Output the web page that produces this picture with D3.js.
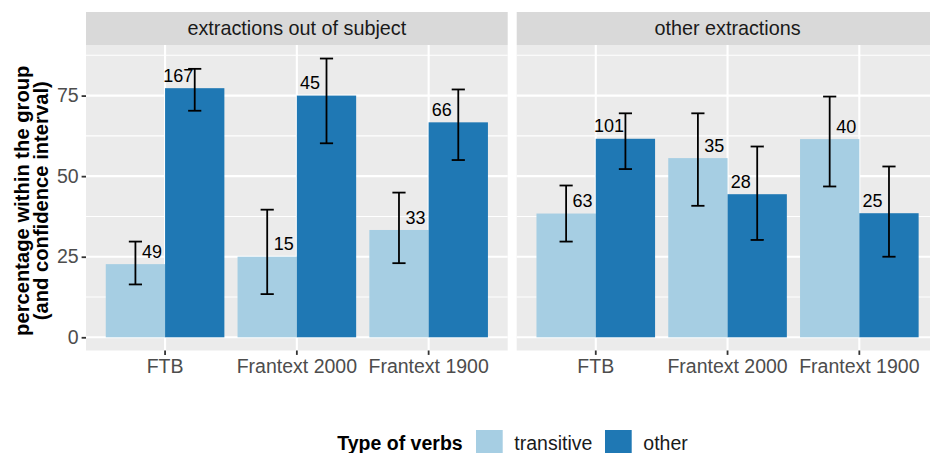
<!DOCTYPE html>
<html lang="en">
  <head>
    <meta charset="UTF-8" />
    <title>Type of verbs by extraction</title>
    <script src="https://d3js.org/d3.v7.min.js"></script>
    <style>
      body { margin: 0; background: #fff; }
      svg { display: block; font-family: "Liberation Sans", Arial, sans-serif; }
    </style>
  </head>
  <body>
    <svg id="chart" width="930" height="453"></svg>

    <script>
      // data
      const panels = ["extractions out of subject", "other extractions"];
      const corpora = ["FTB", "Frantext 2000", "Frantext 1900"];
      const verbTypes = ["transitive", "other"];

      // percentages, one row per panel, one value per corpus
      const transitivePct = [[22.7, 25.0, 33.3], [38.4, 55.6, 61.5]];
      const otherPct = [[77.3, 75.0, 66.7], [61.6, 44.4, 38.5]];
      // confidence intervals [low, high]
      const transitiveCI = [
        [[16.4, 29.7], [13.4, 39.6], [23.0, 44.9]],
        [[29.7, 47.1], [40.8, 69.5], [46.8, 74.7]],
      ];
      const otherCI = [
        [[70.3, 83.3], [60.2, 86.5], [55.0, 76.9]],
        [[52.2, 69.5], [30.2, 59.2], [25.0, 53.0]],
      ];
      // counts shown above bars
      const transitiveN = [[49, 15, 33], [63, 35, 40]];
      const otherN = [[167, 45, 66], [101, 28, 25]];

      const yTicks = [0, 25, 50, 75];
      const yMinor = [12.5, 37.5, 62.5, 87.5];

      const colors = { transitive: "#A6CEE3", other: "#1F78B4" };

      const svg = d3.select("#chart");

      // layout
      const panelW = 421.7;
      const panelLeft = [86, 516.7];
      const stripTop = 12, stripBottom = 45;
      const panelTop = 45, panelBottom = 350.5;

      const y = d3.scaleLinear().domain([-4.1, 90.7]).range([panelBottom, panelTop]);

      panels.forEach((pname, p) => {
        const x = d3
          .scaleBand()
          .domain(corpora)
          .range([panelLeft[p], panelLeft[p] + panelW])
          .paddingInner(0.1)
          .paddingOuter(0.15);
        const sub = d3.scaleBand().domain(verbTypes).range([0, x.bandwidth()]);
        const step = x.step();

        const g = svg.append("g");

        // panel background
        g.append("rect")
          .attr("x", panelLeft[p])
          .attr("y", panelTop)
          .attr("width", panelW)
          .attr("height", panelBottom - panelTop)
          .attr("fill", "#EBEBEB");

        // grid
        g.selectAll(".minor")
          .data(yMinor)
          .enter()
          .append("line")
          .attr("x1", panelLeft[p])
          .attr("x2", panelLeft[p] + panelW)
          .attr("y1", (d) => y(d))
          .attr("y2", (d) => y(d))
          .attr("stroke", "#fff")
          .attr("stroke-width", 1.1);
        g.selectAll(".major")
          .data(yTicks)
          .enter()
          .append("line")
          .attr("x1", panelLeft[p])
          .attr("x2", panelLeft[p] + panelW)
          .attr("y1", (d) => y(d))
          .attr("y2", (d) => y(d))
          .attr("stroke", "#fff")
          .attr("stroke-width", 2.1);
        g.selectAll(".vmajor")
          .data(corpora)
          .enter()
          .append("line")
          .attr("x1", (d) => x(d) + x.bandwidth() / 2)
          .attr("x2", (d) => x(d) + x.bandwidth() / 2)
          .attr("y1", panelTop)
          .attr("y2", panelBottom)
          .attr("stroke", "#fff")
          .attr("stroke-width", 2.1);

        // strip
        g.append("rect")
          .attr("x", panelLeft[p])
          .attr("y", stripTop)
          .attr("width", panelW)
          .attr("height", stripBottom - stripTop)
          .attr("fill", "#D9D9D9");
        g.append("text")
          .attr("x", panelLeft[p] + panelW / 2)
          .attr("y", (stripTop + stripBottom) / 2)
          .attr("dy", "0.35em")
          .attr("text-anchor", "middle")
          .attr("font-size", 19.8)
          .attr("fill", "#1A1A1A")
          .text(pname);

        const rows = corpora.flatMap((c, i) => [
          {
            corpus: c,
            type: "transitive",
            pct: transitivePct[p][i],
            ci: transitiveCI[p][i],
            n: transitiveN[p][i],
          },
          {
            corpus: c,
            type: "other",
            pct: otherPct[p][i],
            ci: otherCI[p][i],
            n: otherN[p][i],
          },
        ]);

        // bars
        g.selectAll(".bar")
          .data(rows)
          .enter()
          .append("rect")
          .attr("x", (d) => x(d.corpus) + sub(d.type))
          .attr("y", (d) => y(d.pct))
          .attr("width", sub.bandwidth())
          .attr("height", (d) => y(0) - y(d.pct))
          .attr("fill", (d) => colors[d.type]);

        // error bars
        const cap = step * 0.05;
        const eb = g
          .selectAll(".err")
          .data(rows)
          .enter()
          .append("g")
          .attr("stroke", "#000")
          .attr("stroke-width", 1.8);
        const cx = (d) => x(d.corpus) + sub(d.type) + sub.bandwidth() / 2;
        eb.append("line")
          .attr("x1", cx)
          .attr("x2", cx)
          .attr("y1", (d) => y(d.ci[0]))
          .attr("y2", (d) => y(d.ci[1]));
        eb.append("line")
          .attr("x1", (d) => cx(d) - cap)
          .attr("x2", (d) => cx(d) + cap)
          .attr("y1", (d) => y(d.ci[0]))
          .attr("y2", (d) => y(d.ci[0]));
        eb.append("line")
          .attr("x1", (d) => cx(d) - cap)
          .attr("x2", (d) => cx(d) + cap)
          .attr("y1", (d) => y(d.ci[1]))
          .attr("y2", (d) => y(d.ci[1]));

        // count labels
        g.selectAll(".lbl")
          .data(rows)
          .enter()
          .append("text")
          .attr("x", (d) =>
            x(d.corpus) + x.bandwidth() / 2 + (d.type === "transitive" ? -0.1 : 0.1) * step
          )
          .attr("y", (d) => y(d.pct + 4))
          .attr("dy", "0.36em")
          .attr("text-anchor", "middle")
          .attr("font-size", 18)
          .attr("fill", "#000")
          .text((d) => d.n);

        // x axis
        const xa = g
          .append("g")
          .attr("transform", `translate(0,${panelBottom})`)
          .call(d3.axisBottom(x).tickSize(4.4).tickPadding(4));
        xa.select(".domain").remove();
        xa.selectAll("line").attr("stroke", "#333").attr("stroke-width", 1.8);
        xa.selectAll("text")
          .attr("font-size", 19.5)
          .attr("fill", "#4D4D4D")
          .attr("font-family", "Liberation Sans, Arial, sans-serif");

        // y axis only on first panel
        if (p === 0) {
          const ya = g
            .append("g")
            .attr("transform", `translate(${panelLeft[p]},0)`)
            .call(d3.axisLeft(y).tickValues(yTicks).tickSize(4.4).tickPadding(3));
          ya.select(".domain").remove();
          ya.selectAll("line").attr("stroke", "#333").attr("stroke-width", 1.8);
          ya.selectAll("text")
            .attr("font-size", 19.5)
            .attr("fill", "#4D4D4D")
            .attr("font-family", "Liberation Sans, Arial, sans-serif");
        }
      });

      // y axis title
      const yTitle = svg
        .append("text")
        .attr("transform", `translate(0,${(panelTop + panelBottom) / 2 + 3}) rotate(-90)`)
        .attr("text-anchor", "middle")
        .attr("font-size", 20.2)
        .attr("font-weight", "bold")
        .attr("fill", "#000");
      yTitle.append("tspan").attr("x", 0).attr("y", 29).text("percentage within the group");
      yTitle.append("tspan").attr("x", 0).attr("y", 48).text("(and confidence interval)");

      // legend
      const legend = svg.append("g");
      legend
        .append("text")
        .attr("x", 337.3)
        .attr("y", 443.5)
        .attr("dy", "0.35em")
        .attr("font-size", 19.5)
        .attr("font-weight", "bold")
        .text("Type of verbs");
      const keyX = [476, 605];
      verbTypes.forEach((t, i) => {
        legend
          .append("rect")
          .attr("x", keyX[i])
          .attr("y", 430)
          .attr("width", 26.7)
          .attr("height", 26.7)
          .attr("fill", colors[t]);
        legend
          .append("text")
          .attr("x", keyX[i] + 38.3)
          .attr("y", 443.5)
          .attr("dy", "0.35em")
          .attr("font-size", 19.5)
          .attr("fill", "#1A1A1A")
          .text(t);
      });
    </script>
  </body>
</html>
